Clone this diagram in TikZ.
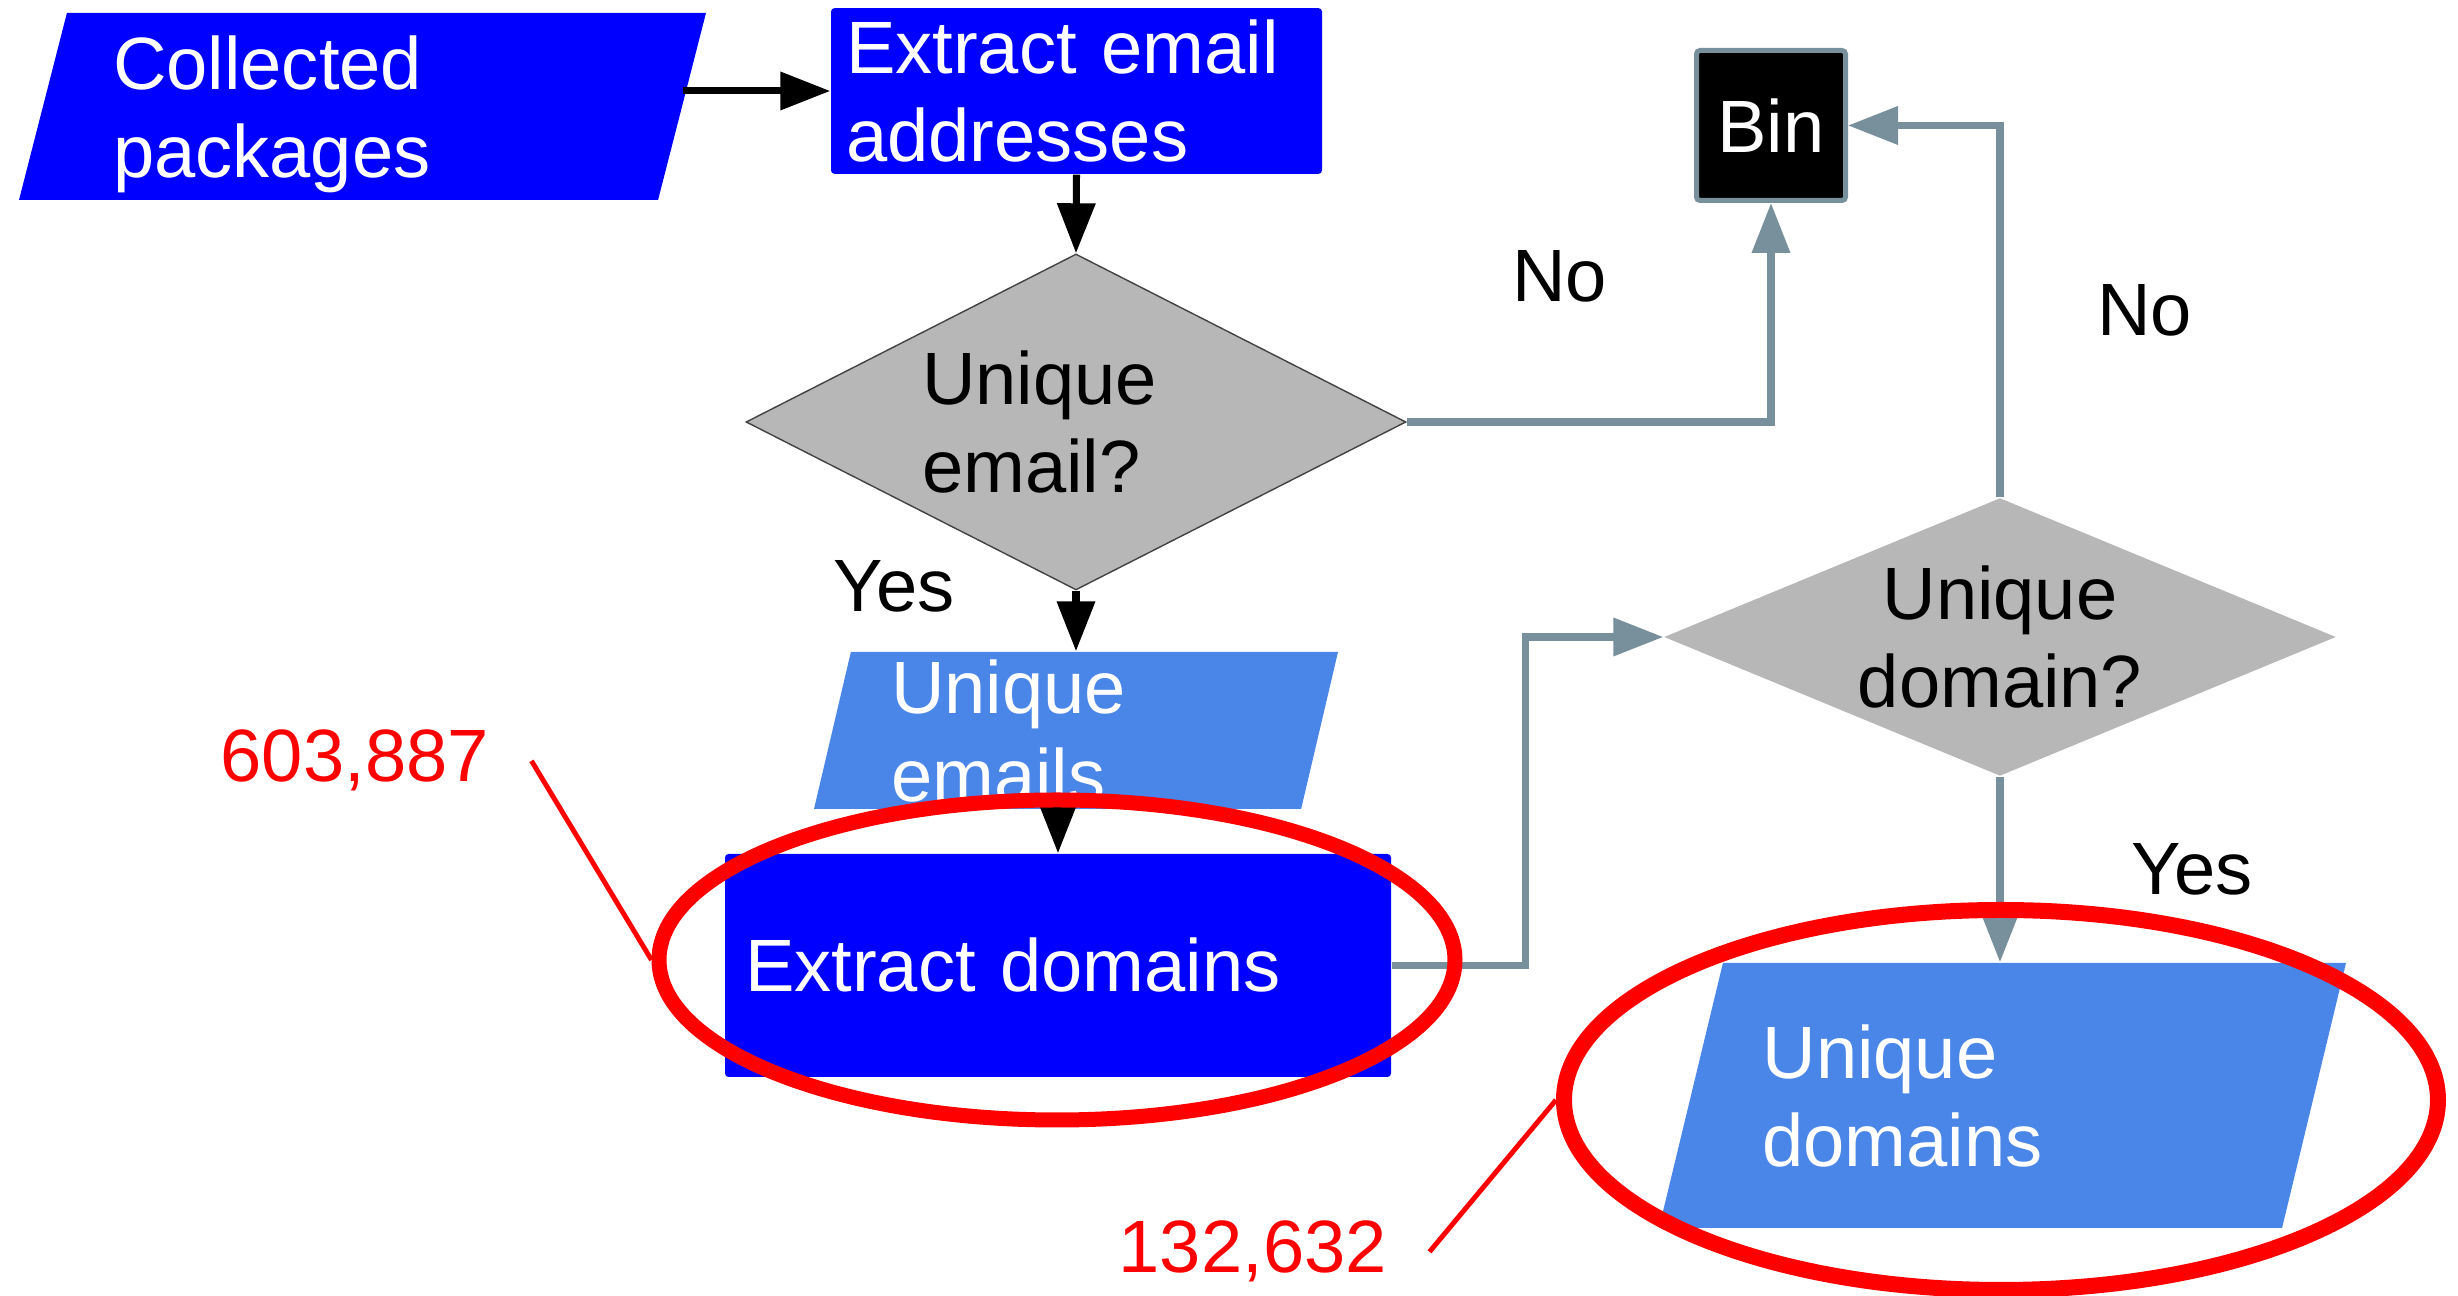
\documentclass[tikz,border=0pt]{standalone}
\usepackage{fontspec}
\setmainfont{Liberation Sans}
\usepackage{xcolor}
\usepackage{tikz}
\usetikzlibrary{arrows.meta,shapes.geometric,calc}
\definecolor{procblue}{RGB}{0,0,255}
\definecolor{datablue}{RGB}{74,134,232}
\definecolor{decgray}{RGB}{183,183,183}
\definecolor{decedge}{RGB}{67,67,67}
\definecolor{linkgray}{RGB}{120,144,156}
\definecolor{markred}{RGB}{255,0,0}

\begin{document}
\begin{tikzpicture}[font=\fontsize{21.1}{25}\selectfont,
    datanode/.style={trapezium, trapezium stretches body, fill=datablue, text=white,
        align=left, inner sep=0pt, text depth=25pt},
    procnode/.style={rectangle, fill=procblue, text=white, align=left, rounded corners=1pt},
    decision/.style={diamond, aspect=2, fill=decgray, text=black, inner sep=0pt},
    binnode/.style={rectangle, fill=black, draw=linkgray, line width=0.05cm, text=white, rounded corners=1pt},
    flowline/.style={-{Triangle[length=0.5cm, width=0.37cm]}, line width=2pt, black},
    linkline/.style={-{Triangle[length=0.5cm, width=0.37cm]}, line width=2pt, linkgray},
    answer/.style={anchor=base west, inner sep=0pt, text=black},
    countlabel/.style={anchor=base west, inner sep=0pt, text=markred},
    ring/.style={ellipse, draw=markred, inner sep=0pt},
    callout/.style={draw=markred, line width=1.4pt}]

    % page: 2458 x 1296 px, 1 px = 0.01 cm
    \useasboundingbox (0,0) rectangle (24.58,12.96);

    % Left column
    \node[datanode, fill=procblue, trapezium left angle=71.3, trapezium right angle=108.7,
        minimum width=6.87cm, minimum height=1.87cm, text width=4.99cm]
        (collected) at (3.625,11.895) {Collected\\packages};
    \node[procnode, minimum width=4.91cm, minimum height=1.58cm, inner xsep=0.15cm, text width=4.61cm]
        (extract) at (10.765,12.05) {Extract email\\addresses};
    \node[decision, draw=decedge, line width=0.4pt, minimum width=6.60cm, minimum height=3.36cm,
        text width=3.08cm, align=left] (email) at (10.76,8.74) {Unique\\email?};
    \node[datanode, trapezium left angle=75.4, trapezium right angle=104.6,
        minimum width=5.24cm, minimum height=1.57cm, text width=3.70cm]
        (uemails) at (10.76,5.655) {Unique\\emails};
    \node[procnode, minimum width=6.66cm, minimum height=2.23cm, inner xsep=0.20cm, text width=6.26cm]
        (domains) at (10.58,3.305) {Extract domains};

    % Right column
    \node[binnode, minimum width=1.49cm, minimum height=1.50cm] (bin) at (17.71,11.705) {Bin};
    \node[decision, aspect=2.4, minimum width=6.72cm, minimum height=2.78cm, align=center]
        (domain) at (20.00,6.59) {Unique\\domain?};
    \node[datanode, trapezium left angle=65.7, trapezium right angle=114.3,
        minimum width=6.87cm, minimum height=2.65cm, text width=4.80cm]
        (udomains) at (20.025,2.005) {Unique\\domains};

    % Black flow
    \draw[flowline] (collected.east |- extract.west) -- (extract.west);
    \draw[flowline] (extract.south) -- (email.north);
    \draw[flowline] (email.south) -- (email.south |- uemails.north);
    \draw[flowline] (domains.north |- uemails.south) -- (domains.north);

    % Grey links
    \draw[linkline] (email.east) -| (bin.south);
    \draw[linkline] (domain.north) |- (bin.east);
    \draw[linkline] (domains.east) -- ++(1.34,0) |- (domain.west);
    \draw[linkline] (domain.south) -- (domain.south |- udomains.north);

    % Answers
    \node[answer] (no1) at (15.115,9.94) {No};
    \node[answer] (no2) at (20.965,9.60) {No};
    \node[answer] (yes1) at (8.33,6.84) {Yes};
    \node[answer] (yes2) at (21.31,4.01) {Yes};

    % Red marks and counts
    \node[ring, line width=0.15cm, minimum width=7.96cm, minimum height=3.20cm] (ring1) at (10.57,3.36) {};
    \node[ring, line width=0.16cm, minimum width=8.74cm, minimum height=3.80cm] (ring2) at (20.01,1.96) {};
    \node[countlabel] (count1) at (2.20,5.14) {603,887};
    \node[countlabel] (count2) at (11.18,0.23) {132,632};
    \draw[callout] ([xshift=0.42cm]count1.east) -- (ring1.west);
    \draw[callout] ([xshift=0.42cm]count2.east) -- (ring2.west);
\end{tikzpicture}
\end{document}
